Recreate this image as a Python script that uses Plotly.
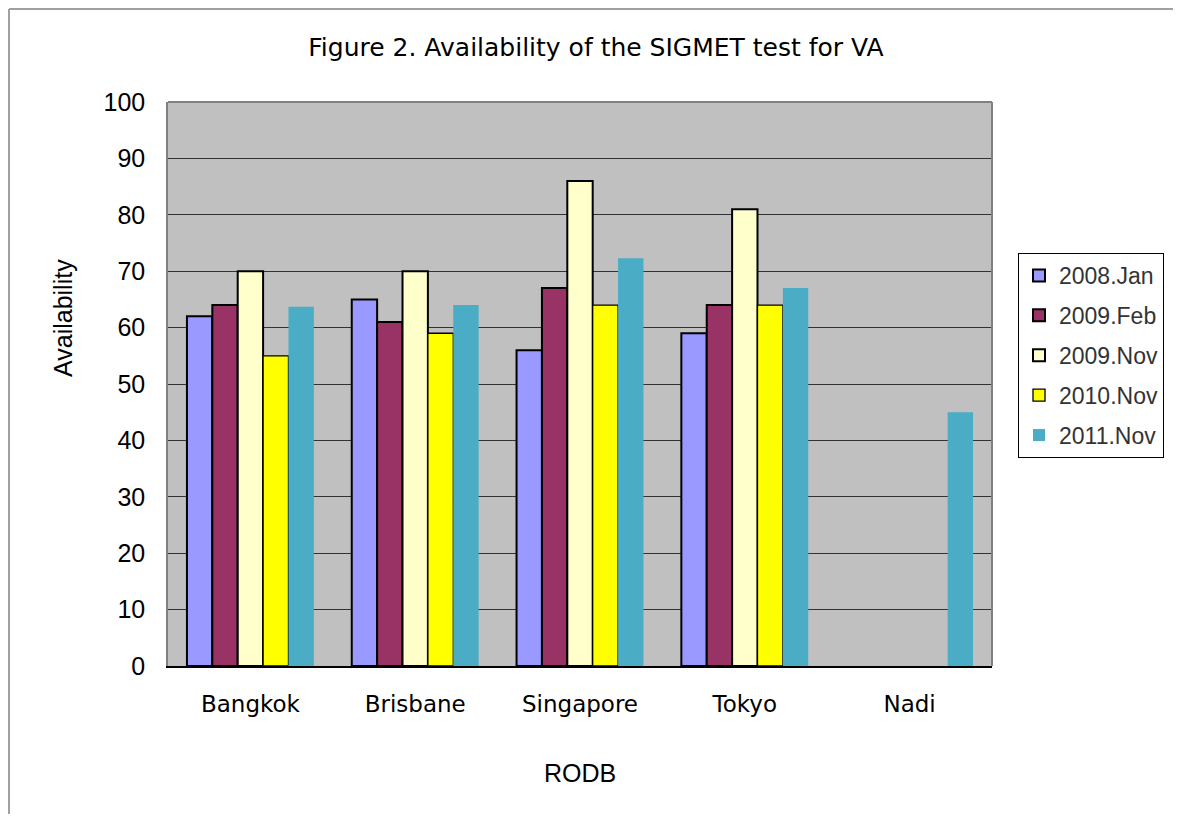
import plotly.graph_objects as go

categories = ["Bangkok", "Brisbane", "Singapore", "Tokyo", "Nadi"]
series_names = ["2008.Jan", "2009.Feb", "2009.Nov", "2010.Nov", "2011.Nov"]
v_2008_jan = [62, 65, 56, 59, None]
v_2009_feb = [64, 61, 67, 64, None]
v_2009_nov = [70, 70, 86, 81, None]
v_2010_nov = [55, 59, 64, 64, None]
v_2011_nov = [63.7, 64, 72.3, 67, 45]
y_ticks = [0, 10, 20, 30, 40, 50, 60, 70, 80, 90, 100]

values = [v_2008_jan, v_2009_feb, v_2009_nov, v_2010_nov, v_2011_nov]
colors = ["#9999FF", "#993366", "#FFFFCC", "#FFFF00", "#4BACC6"]
line_w = [2, 2, 2, 1.3, 0]

# page body has an 8px margin: figure coords = screen coords - 8
OFF = 8
W, H = 1181 - OFF, 822 - 2 * OFF
L, R, T, B = 168 - OFF, 992 - OFF, 102 - OFF, 666 - OFF

fig = go.Figure()
for i, (name, vals) in enumerate(zip(series_names, values)):
    fig.add_trace(go.Bar(
        x=categories, y=vals, name=name,
        marker=dict(color=colors[i], line=dict(color="#000000", width=line_w[i])),
        legendgroup=name,
    ))

def px(x):
    return (x - OFF - L) / (R - L)

def py(y):
    return (B - (y - OFF)) / (B - T)

fig.update_layout(
    width=W, height=H,
    margin=dict(l=L, r=W - R, t=T, b=H - B),
    paper_bgcolor="white",
    plot_bgcolor="#C0C0C0",
    barmode="group",
    bargap=0.23,
    bargroupgap=0,
    title=dict(
        text="Figure 2. Availability of the SIGMET test for VA",
        x=(596 - OFF) / W, xanchor="center",
        y=1 - (47 - OFF) / H, yanchor="middle",
        font=dict(family="DejaVu Sans", size=25, color="#000000"),
    ),
    font=dict(family="Liberation Sans", color="#000000"),
    legend=dict(
        x=px(1018), y=py(253), xanchor="left", yanchor="top",
        bgcolor="white", bordercolor="#000000", borderwidth=1,
        font=dict(family="Liberation Sans", size=23, color="#333333"),
        tracegroupgap=7, itemwidth=30,
    ),
    xaxis=dict(
        showgrid=False,
        showline=True, linecolor="#000000", linewidth=1.5,
        mirror=False,
        ticks="outside", ticklen=17, tickcolor="rgba(0,0,0,0)",
        tickfont=dict(family="DejaVu Sans", size=23, color="#000000"),
        title=dict(text="RODB", font=dict(family="Liberation Sans", size=25, color="#000000"), standoff=48),
    ),
    yaxis=dict(
        range=[0, 100],
        tickvals=y_ticks,
        showgrid=True, gridcolor="#333333", gridwidth=1.2,
        showline=True, linecolor="#808080", linewidth=1.5,
        ticks="outside", ticklen=16, tickcolor="rgba(0,0,0,0)",
        tickfont=dict(family="Liberation Sans", size=25, color="#000000"),
        zeroline=False,
    ),
    annotations=[
        dict(text="Availability", xref="paper", yref="paper",
             x=px(63), y=py(318), xanchor="center", yanchor="middle",
             textangle=-90, showarrow=False,
             font=dict(family="Liberation Sans", size=25, color="#000000")),
    ],
    shapes=[
        dict(type="line", xref="paper", yref="paper",
             x0=1, x1=1, y0=0, y1=1,
             line=dict(color="#808080", width=2)),
        dict(type="line", xref="paper", yref="paper",
             x0=0, x1=1, y0=1, y1=1,
             line=dict(color="#808080", width=2)),
        dict(type="line", xref="paper", yref="paper",
             x0=px(9), x1=px(1250), y0=py(9), y1=py(9),
             line=dict(color="#A0A0A0", width=2), layer="below"),
        dict(type="line", xref="paper", yref="paper",
             x0=px(9), x1=px(9), y0=py(9), y1=py(900),
             line=dict(color="#A0A0A0", width=2), layer="below"),
    ],
)

fig.write_html("out.html")
